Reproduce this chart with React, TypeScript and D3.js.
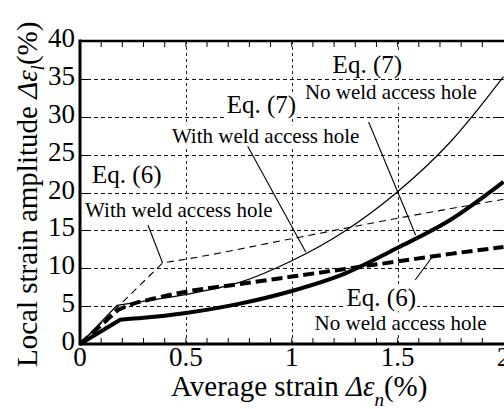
import React, { useEffect, useRef } from 'react';
import * as d3 from 'd3';

const W = 504;
const H = 409;
const FONT = "'Liberation Serif', 'Times New Roman', serif";

// axis ticks
const xTickValues = [0, 0.5, 1, 1.5, 2];
const xTickLabels = ['0', '0.5', '1', '1.5', '2'];
const yTickValues = [0, 5, 10, 15, 20, 25, 30, 35, 40];
const yTickLabels = ['0', '5', '10', '15', '20', '25', '30', '35', '40'];

// Eq. (7), with weld access hole (thin solid); elastic branch ends at index 1
const eq7WithX = [0, 0.175, 0.35, 0.54, 0.75, 1.0, 1.25, 1.5, 1.75, 2.0];
const eq7WithY = [0, 5.1, 5.85, 6.75, 8.1, 11.0, 14.9, 20.1, 26.7, 35.3];

// Eq. (7), no weld access hole (thick solid)
const eq7NoX = [0, 0.19, 0.3, 0.5, 0.75, 1.0, 1.25, 1.5, 1.75, 2.0];
const eq7NoY = [0, 3.2, 3.45, 4.1, 5.3, 7.0, 9.3, 12.7, 16.4, 21.4];

// Eq. (6), with weld access hole (thin dashed)
const eq6WithX = [0, 0.39, 0.5, 1.0, 1.5, 2.0];
const eq6WithY = [0, 10.7, 11.2, 13.9, 16.6, 19.1];

// Eq. (6), no weld access hole (thick dashed)
const eq6NoX = [0, 0.18, 0.25, 0.35, 0.5, 0.75, 1.0, 1.25, 1.5, 1.75, 2.0];
const eq6NoY = [0, 4.5, 5.3, 6.0, 6.9, 7.9, 8.9, 9.9, 10.9, 11.9, 12.8];

// annotation labels: text, anchor in data units, font size
const labelTexts = [
  'Eq. (7)',
  'No weld access hole',
  'Eq. (7)',
  'With weld access hole',
  'Eq. (6)',
  'With weld access hole',
  'Eq. (6)',
  'No weld access hole',
];
const labelX = [1.193, 1.062, 0.693, 0.434, 0.057, 0.024, 1.259, 1.108];
const labelY = [35.8, 32.3, 30.5, 26.5, 21.3, 16.8, 5.0, 1.8];
const labelSize = [25, 21, 25, 21, 25, 21, 25, 21];

// leader lines: [x1, y1, x2, y2] in data units
const leaders = [
  [0.792, 26.1, 1.066, 12.15],
  [1.363, 29.3, 1.585, 14.4],
  [0.321, 15.7, 0.39, 10.7],
  [1.67, 11.75, 1.583, 8.45],
];

export default function App() {
  const ref = useRef<SVGSVGElement>(null);

  useEffect(() => {
    const svg = d3.select(ref.current);
    svg.selectAll('*').remove();

    const x = d3.scaleLinear().domain([0, 2]).range([80, 503.5]);
    const y = d3.scaleLinear().domain([0, 40]).range([344, 41]);

    svg.append('rect').attr('width', W).attr('height', H).attr('fill', '#fff');

    // grid
    const grid = svg.append('g');
    yTickValues.filter((v) => v > 0 && v < 40).forEach((v) => {
      grid.append('line')
        .attr('x1', x(0)).attr('x2', x(2))
        .attr('y1', Math.round(y(v)) + 0.5).attr('y2', Math.round(y(v)) + 0.5)
        .attr('stroke', '#111').attr('stroke-width', 1)
        .attr('stroke-dasharray', '4,3');
    });
    xTickValues.filter((v) => v > 0).forEach((v) => {
      grid.append('line')
        .attr('x1', Math.round(x(v)) + 0.5).attr('x2', Math.round(x(v)) + 0.5)
        .attr('y1', y(40)).attr('y2', y(0))
        .attr('stroke', '#222').attr('stroke-width', 1)
        .attr('stroke-dasharray', '3,3');
    });

    // minor ticks on top and bottom
    const minor = d3.range(1, 20).map((i) => i / 10);
    minor.forEach((v) => {
      svg.append('line').attr('x1', x(v)).attr('x2', x(v))
        .attr('y1', y(0)).attr('y2', y(0) - 6).attr('stroke', '#000').attr('stroke-width', 1);
      svg.append('line').attr('x1', x(v)).attr('x2', x(v))
        .attr('y1', y(40)).attr('y2', y(40) + 6).attr('stroke', '#000').attr('stroke-width', 1);
    });
    // y ticks on both sides
    yTickValues.filter((v) => v > 0 && v < 40).forEach((v) => {
      svg.append('line').attr('x1', x(0)).attr('x2', x(0) + 8)
        .attr('y1', Math.round(y(v)) + 0.5).attr('y2', Math.round(y(v)) + 0.5)
        .attr('stroke', '#000').attr('stroke-width', 1);
      svg.append('line').attr('x1', x(2) - 8).attr('x2', x(2))
        .attr('y1', Math.round(y(v)) + 0.5).attr('y2', Math.round(y(v)) + 0.5)
        .attr('stroke', '#000').attr('stroke-width', 1);
    });

    // annotation labels with white boxes
    const labels = svg.append('g');
    labelTexts.forEach((t, i) => {
      const g = labels.append('g');
      const box = g.append('rect').attr('fill', '#fff');
      const txt = g.append('text')
        .attr('x', x(labelX[i])).attr('y', y(labelY[i]))
        .attr('font-family', FONT).attr('font-size', labelSize[i])
        .attr('fill', '#000').text(t);
      const bb = (txt.node() as SVGTextElement).getBBox();
      box.attr('x', bb.x - 1).attr('y', bb.y + 1).attr('width', bb.width + 2).attr('height', bb.height - 2);
    });

    // curves: straight elastic branch up to the knee, smooth plastic branch after it
    const smooth = d3.line<[number, number]>()
      .x((d) => x(d[0])).y((d) => y(d[1]))
      .curve(d3.curveMonotoneX);
    const kneePath = (xs: number[], ys: number[]) => {
      const pts = xs.map((v, i) => [v, ys[i]] as [number, number]);
      const rest = smooth(pts.slice(1)) as string;
      return `M${x(pts[0][0])},${y(pts[0][1])}L${rest.slice(1)}`;
    };

    svg.append('path').attr('d', kneePath(eq6WithX, eq6WithY))
      .attr('fill', 'none').attr('stroke', '#000').attr('stroke-width', 1.1)
      .attr('stroke-dasharray', '7,5');
    svg.append('path').attr('d', kneePath(eq6NoX, eq6NoY))
      .attr('fill', 'none').attr('stroke', '#000').attr('stroke-width', 4)
      .attr('stroke-dasharray', '11,5');
    svg.append('path').attr('d', kneePath(eq7WithX, eq7WithY))
      .attr('fill', 'none').attr('stroke', '#000').attr('stroke-width', 1.2);
    svg.append('path').attr('d', kneePath(eq7NoX, eq7NoY))
      .attr('fill', 'none').attr('stroke', '#000').attr('stroke-width', 4)
      .attr('stroke-linejoin', 'miter');

    // leader lines
    leaders.forEach((l) => {
      svg.append('line')
        .attr('x1', x(l[0])).attr('y1', y(l[1]))
        .attr('x2', x(l[2])).attr('y2', y(l[3]))
        .attr('stroke', '#000').attr('stroke-width', 1.1);
    });

    // frame
    svg.append('line').attr('x1', x(0)).attr('x2', x(0)).attr('y1', y(40) - 1.5).attr('y2', y(0) + 1.5)
      .attr('stroke', '#000').attr('stroke-width', 3);
    svg.append('line').attr('x1', x(0)).attr('x2', W).attr('y1', y(0)).attr('y2', y(0))
      .attr('stroke', '#000').attr('stroke-width', 3);
    svg.append('line').attr('x1', x(0)).attr('x2', W).attr('y1', y(40)).attr('y2', y(40))
      .attr('stroke', '#000').attr('stroke-width', 2.5);

    // tick labels
    xTickValues.forEach((v, i) => {
      svg.append('text').attr('x', x(v)).attr('y', 366)
        .attr('text-anchor', 'middle').attr('font-family', FONT).attr('font-size', 27)
        .text(xTickLabels[i]);
    });
    yTickValues.forEach((v, i) => {
      svg.append('text').attr('x', 75).attr('y', y(v) + 6)
        .attr('text-anchor', 'end').attr('font-family', FONT).attr('font-size', 27)
        .text(yTickLabels[i]);
    });

    // x axis title
    const xt = svg.append('text').attr('x', 171).attr('y', 396)
      .attr('font-family', FONT).attr('font-size', 29);
    xt.append('tspan').text('Average strain ');
    xt.append('tspan').attr('font-style', 'italic').text('Δε');
    xt.append('tspan').attr('font-style', 'italic').attr('font-size', 19).attr('dy', 10).text('n');
    xt.append('tspan').attr('dy', -10).text('(%)');

    // y axis title
    const yt = svg.append('text').attr('transform', 'translate(37,367) rotate(-90)')
      .attr('font-family', FONT).attr('font-size', 29);
    yt.append('tspan').text('Local strain amplitude ');
    yt.append('tspan').attr('font-style', 'italic').text('Δε');
    yt.append('tspan').attr('font-style', 'italic').attr('font-size', 19).attr('dy', 7).text('l');
    yt.append('tspan').attr('dy', -7).text('(%)');
  }, []);

  return (
    <svg
      ref={ref}
      width={W}
      height={H}
      style={{ position: 'absolute', left: 0, top: 0, display: 'block' }}
    />
  );
}
